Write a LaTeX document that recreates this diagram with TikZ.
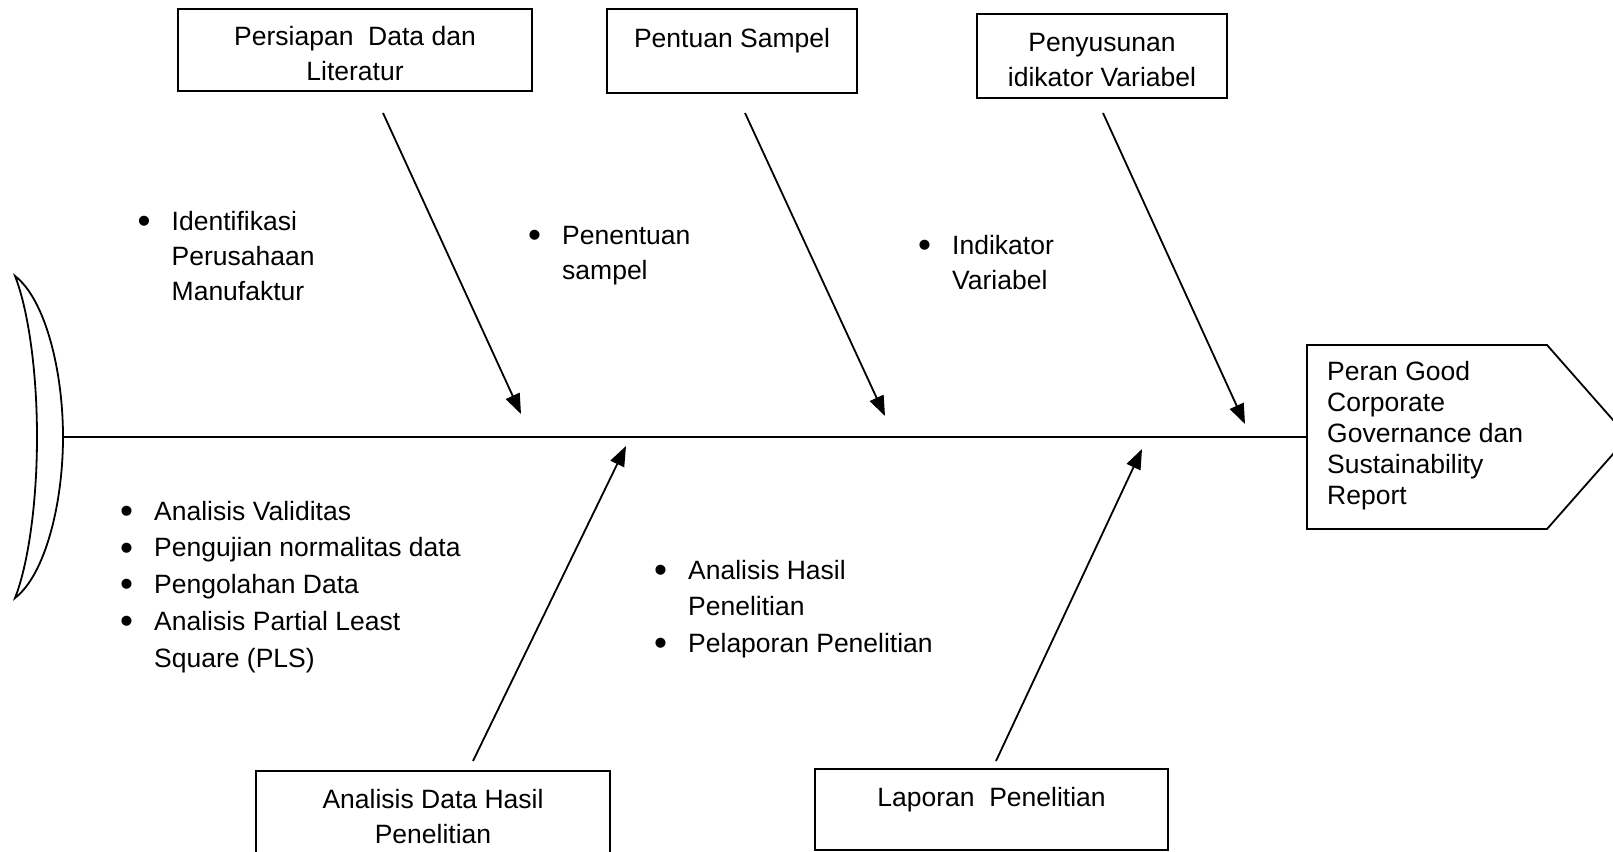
\documentclass[tikz,border=0pt]{standalone}
\usepackage{fontspec}
\setmainfont{Liberation Sans}
\usetikzlibrary{arrows.meta,positioning}

\newcommand{\itembul}{\makebox[34pt][l]{\raisebox{-3.2pt}{\fontsize{37}{37}\selectfont\textbullet}}}
\newcommand{\itemcont}{\hspace*{34pt}}

\tikzset{
  box/.style={draw, line width=1.8pt, inner sep=0pt},
  lbl/.style={anchor=base, inner sep=0pt, font=\fontsize{26.5}{35}\selectfont},
  lst/.style={anchor=base west, inner sep=0pt, font=\fontsize{26.5}{35}\selectfont},
  bone/.style={line width=1.8pt, -{Triangle[length=20pt,width=15pt]}},
}

\begin{document}
\begin{tikzpicture}[x=1pt,y=-1pt]
            \useasboundingbox (0,0) rectangle (1613,851);
            \clip (0,0) rectangle (1613,851);
            % tail and spine
            \draw[line width=1.8pt] (15,276) .. controls (45,299) and (63,370) .. (63,437)
                .. controls (63,504) and (45,575) .. (15,598)
                .. controls (28,565) and (37,504) .. (37,437)
                .. controls (37,370) and (28,309) .. (15,276) -- cycle;
            \coordinate (tail) at (63,437);
            \coordinate (headin) at (1307,437);
            \draw[line width=1.8pt] (tail) -- (headin);
            % head
            \draw[line width=1.8pt] (1307,345) -- (1547,345) -- (1628,437)
                -- (1547,529) -- (1307,529) -- cycle;
            \node[lst, font=\fontsize{26.5}{31}\selectfont] (head) at (1327,380)
                {\begin{tabular}[t]{@{}l@{}}Peran Good\\Corporate\\Governance dan\\Sustainability\\Report\end{tabular}};
            % boxes
            \node[box, minimum width=354pt, minimum height=82pt] (prep) at (355,50) {};
            \node[box, minimum width=250pt, minimum height=84pt] (sampel) at (732,51) {};
            \node[box, minimum width=250pt, minimum height=84pt] (indik) at (1102,56) {};
            \node[box, minimum width=354pt, minimum height=84pt] (analisis) at (433,813) {};
            \node[box, minimum width=353pt, minimum height=81pt] (lapor) at (991.5,809.5) {};
            \node[lbl] (prept) at (355,45.5)
                {\begin{tabular}[t]{@{}c@{}}Persiapan\ \ Data dan\\Literatur\end{tabular}};
            \node[lbl] (sampelt) at (732,47.5) {Pentuan Sampel};
            \node[lbl] (indikt) at (1102,52)
                {\begin{tabular}[t]{@{}c@{}}Penyusunan\\idikator Variabel\end{tabular}};
            \node[lbl] (analisist) at (433,808)
                {\begin{tabular}[t]{@{}c@{}}Analisis Data Hasil\\Penelitian\end{tabular}};
            \node[lbl] (laport) at (991.5,806) {Laporan\ \ Penelitian};
            % bones
            \coordinate (s1) at (383,113);  \coordinate (e1) at (521,414);
            \coordinate (s2) at (745,113);  \coordinate (e2) at (885,416);
            \coordinate (s3) at (1103,113); \coordinate (e3) at (1245,424);
            \coordinate (s4) at (473,761);  \coordinate (e4) at (626,446);
            \coordinate (s5) at (996,761);  \coordinate (e5) at (1142,449);
            \foreach \i in {1,...,5}
            {
                \draw[bone] (s\i) -- (e\i);
            }
            % item lists
            \node[lst] (list1) at (137.5,230)
                {\begin{tabular}[t]{@{}l@{}}\itembul Identifikasi\\\itemcont Perusahaan\\\itemcont Manufaktur\end{tabular}};
            \node[lst] (list2) at (528,244.5)
                {\begin{tabular}[t]{@{}l@{}}\itembul Penentuan\\\itemcont sampel\end{tabular}};
            \node[lst] (list3) at (918,254.5)
                {\begin{tabular}[t]{@{}l@{}}\itembul Indikator\\\itemcont Variabel\end{tabular}};
            \node[lst, font=\fontsize{26.5}{36.8}\selectfont] (list4) at (120,520)
                {\begin{tabular}[t]{@{}l@{}}\itembul Analisis Validitas\\\itembul Pengujian normalitas data\\\itembul Pengolahan Data\\\itembul Analisis Partial Least\\\itemcont Square (PLS)\end{tabular}};
            \node[lst, font=\fontsize{26.5}{36.5}\selectfont] (list5) at (654,579)
                {\begin{tabular}[t]{@{}l@{}}\itembul Analisis Hasil\\\itemcont Penelitian\\\itembul Pelaporan Penelitian\end{tabular}};
        \end{tikzpicture}
\end{document}
